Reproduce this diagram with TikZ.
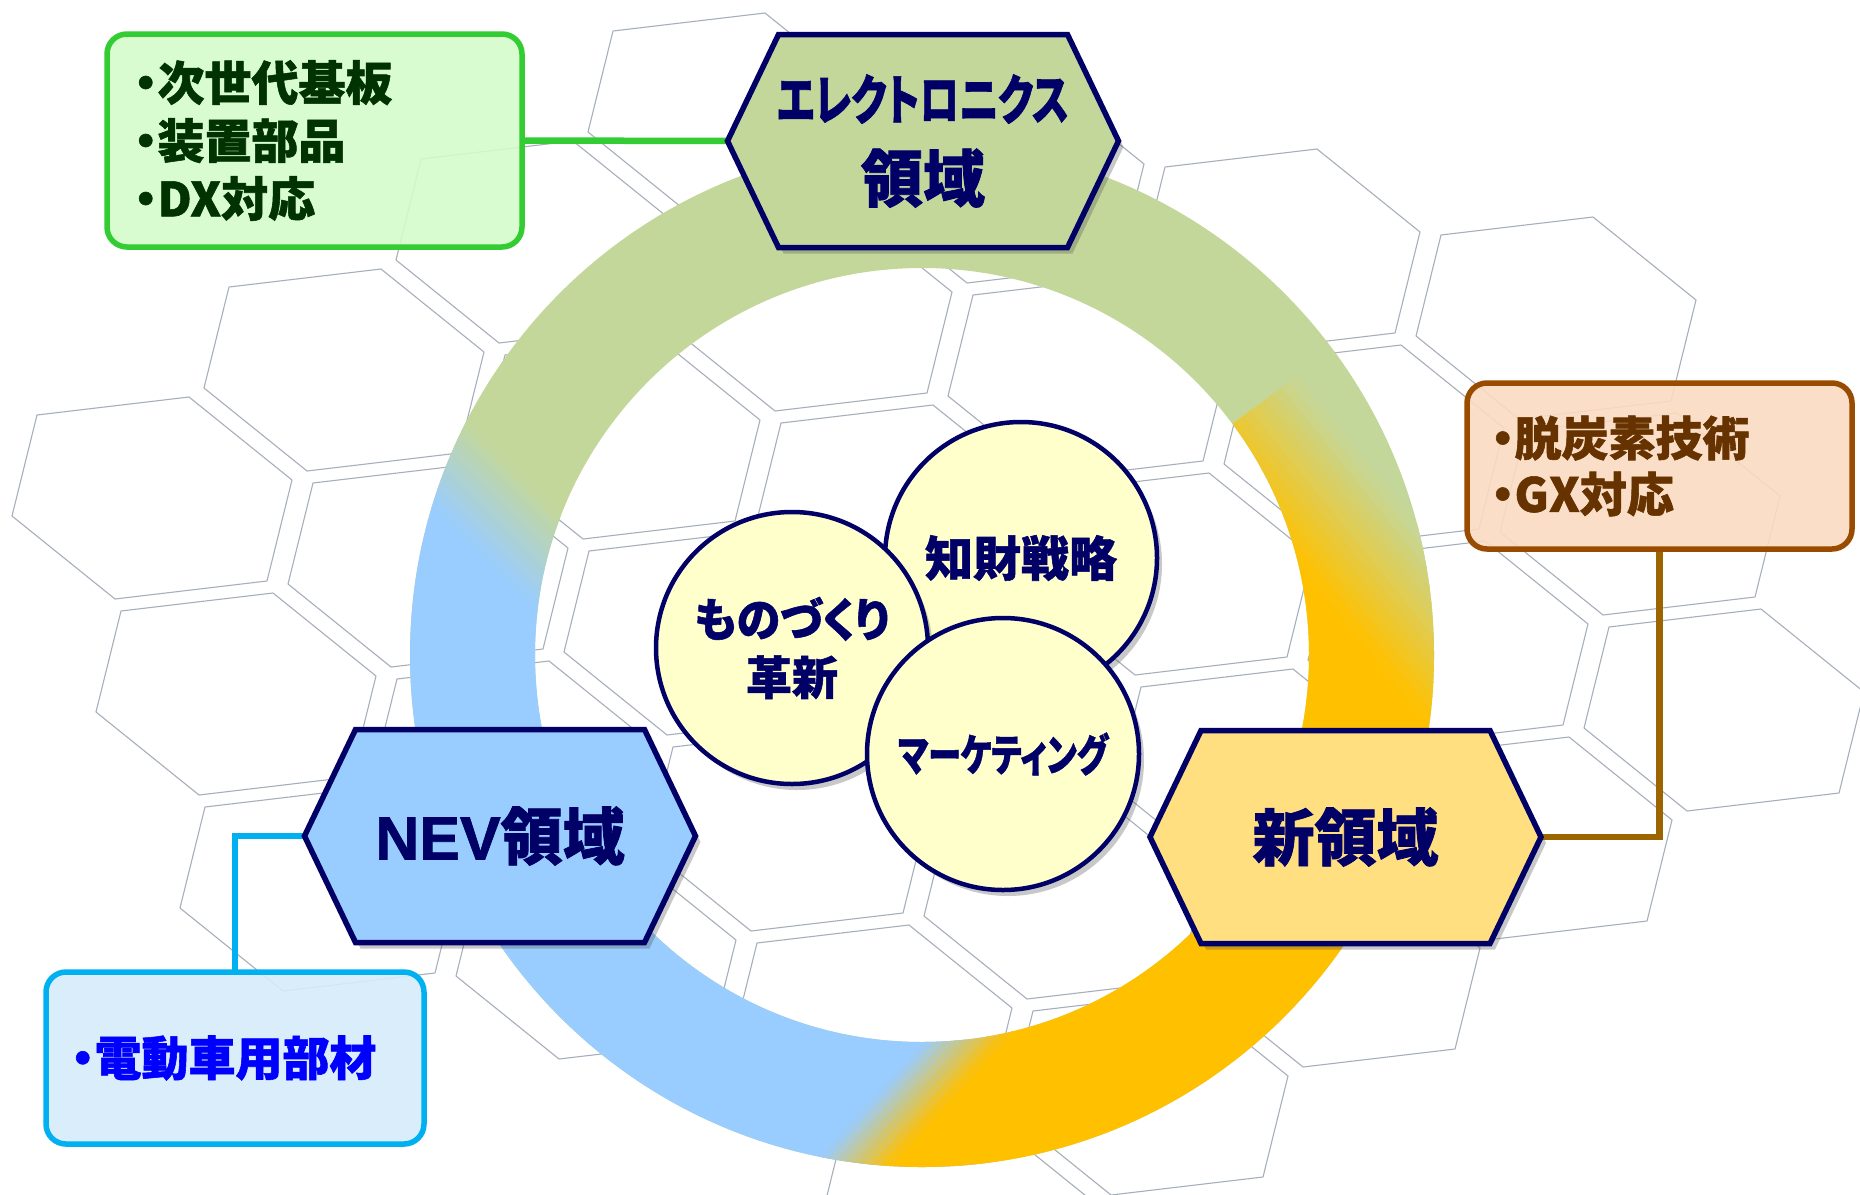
\documentclass[tikz,border=0pt]{standalone}
\usepackage{fontspec}
\usepackage{graphicx}
\usetikzlibrary{shadows}
\newfontfamily\jp{Noto Sans CJK JP}[RawFeature=+palt, BoldFeatures={FakeBold=1.2}]
\newfontfamily\lat{Liberation Sans}[BoldFeatures={FakeBold=1.2}]
\definecolor{cnavy}{HTML}{000066}
\definecolor{cringgreen}{HTML}{C4D79B}
\definecolor{cringblue}{HTML}{99CCFF}
\definecolor{cringorange}{HTML}{FFC000}
\definecolor{chexyellow}{HTML}{FFDF80}
\definecolor{ccirc}{HTML}{FFFFCC}
\definecolor{cgfill}{HTML}{D4FBCA}
\definecolor{cgline}{HTML}{33CC33}
\definecolor{cgtext}{HTML}{003300}
\definecolor{crfill}{HTML}{FADBC2}
\definecolor{crline}{HTML}{994C00}
\definecolor{crconn}{HTML}{9C6500}
\definecolor{crtext}{HTML}{663300}
\definecolor{cbfill}{HTML}{D6ECFB}
\definecolor{cbline}{HTML}{00B0F0}
\definecolor{cbtext}{HTML}{0000FF}
\definecolor{chexgray}{HTML}{A7AFBA}
\pgfdeclarelayer{back}
\pgfdeclarelayer{mid}
\pgfsetlayers{back,mid,main}
\tikzset{
  hexline/.style={draw=chexgray, line width=1.1pt, line join=round},
  hexshape/.style={draw=cnavy, line width=5.5pt, drop shadow={shadow xshift=5pt, shadow yshift=-6pt, opacity=0.3, fill=black!70}},
  hextext/.style={minimum width=391pt, minimum height=213pt, inner sep=0pt, outer sep=0pt, align=center, text=cnavy},
  circnode/.style={circle, draw=cnavy, line width=4.5pt, fill=ccirc, minimum size=272pt, inner sep=0pt, outer sep=0pt, align=center, text=cnavy, drop shadow={shadow xshift=5pt, shadow yshift=-6pt, opacity=0.3, fill=black!70}},
  infobox/.style={rectangle, rounded corners=20pt, line width=5.5pt, inner sep=0pt, outer sep=0pt, align=left, fill opacity=0.9, text opacity=1, font=\jp\bfseries\fontsize{47}{58}\selectfont},
  conn/.style={line width=6.5pt},
}
\begin{document}
\begin{tikzpicture}[x=1pt,y=-1pt]
\useasboundingbox (0,0) rectangle (1860,1194);
\begin{pgfonlayer}{back}
\fill[white] (0,0) rectangle (1860,1194);
% honeycomb background
\foreach \m/\n in {0/0,1/0,2/0,3/0,
                   -1/1,0/1,1/1,2/1,3/1,
                   -2/2,-1/2,0/2,1/2,2/2,3/2,
                   -2/3,-1/3,0/3,1/3,2/3,3/3,
                   -2/4,-1/4,0/4,1/4,2/4,
                   -3/5,-2/5,-1/5,0/5,1/5}{
  \pgfmathsetmacro\hx{152+192*\m+276*\n}
  \pgfmathsetmacro\hy{498-128*\m+68*\n}
  \draw[hexline] (\hx+140,\hy-18) -- (\hx+37,\hy-101) -- (\hx-115,\hy-83) -- (\hx-140,\hy+18) -- (\hx-37,\hy+101) -- (\hx+115,\hy+83) -- cycle;
}
% ring
\begin{scope}[even odd rule]
\clip (922,655) circle[radius=512] (922,655) circle[radius=387];
\fill[cringgreen] (300,0) rectangle (1600,1194);
\fill[cringblue] (-21,53) -- (1039,1113) -- (332,1820) -- (-728,760) -- cycle;
\foreach \i in {0,...,9}{
  \pgfmathsetmacro\a{8.5*\i}
  \pgfmathsetmacro\b{8.5*\i+9.5}
  \pgfmathtruncatemacro\p{(\i+0.5)*10}
  \fill[cringblue!\p!cringgreen] ({463-0.7071*\a-106},{417+0.7071*\a-106}) -- ({463-0.7071*\a+177},{417+0.7071*\a+177}) -- ({463-0.7071*\b+177},{417+0.7071*\b+177}) -- ({463-0.7071*\b-106},{417+0.7071*\b-106}) -- cycle;
}
\begin{scope}
\clip (922,655) -- (1564,177) -- (1900,177) -- (1900,1300) -- (700,1300) -- cycle;
\begin{scope}
\clip (793,-64) -- (1801,1184) -- (631,2129) -- (-377,881) -- cycle;
\fill[cringorange] (662,1418) -- (1030,1011) -- (1000,655) -- (1000,0) -- (2000,0) -- (2000,2000) -- (662,2000) -- cycle;
\foreach \i in {0,...,7}{
  \pgfmathsetmacro\a{7.25*\i}
  \pgfmathsetmacro\b{7.25*\i+8}
  \pgfmathtruncatemacro\p{(\i+0.5)*12.5}
  \fill[cringorange!\p!cringblue] ({820+0.74*\a-67},{1157+0.67*\a+74}) -- ({820+0.74*\a+167.5},{1157+0.67*\a-185}) -- ({820+0.74*\b+167.5},{1157+0.67*\b-185}) -- ({820+0.74*\b-67},{1157+0.67*\b+74}) -- cycle;
}
\end{scope}
\foreach \i in {0,...,11}{
  \pgfmathsetmacro\a{9.583*\i}
  \pgfmathsetmacro\b{9.583*\i+10.5}
  \pgfmathtruncatemacro\p{(\i+0.5)*100/12}
  \fill[cringgreen!\p!cringorange] ({1297+0.78*\a-189},{560-0.63*\a-234}) -- ({1297+0.78*\a+189},{560-0.63*\a+234}) -- ({1297+0.78*\b+189},{560-0.63*\b+234}) -- ({1297+0.78*\b-189},{560-0.63*\b-234}) -- cycle;
}
\end{scope}
\end{scope}
\end{pgfonlayer}

% hexagon nodes
\filldraw[hexshape, fill=cringgreen] (727.5,141) -- (778.5,34.5) -- (1067.5,34.5) -- (1118.5,141) -- (1067.5,247.5) -- (778.5,247.5) -- cycle;
\node[hextext, font=\jp\bfseries\fontsize{62}{82}\selectfont] (elec) at (923,141)
  {{\fontsize{54}{82}\selectfont\resizebox{292pt}{\height}{エレクトロニクス}}\\領域};

\filldraw[hexshape, fill=cringblue] (304.5,836) -- (355.5,729.5) -- (644.5,729.5) -- (695.5,836) -- (644.5,942.5) -- (355.5,942.5) -- cycle;
\node[hextext, font=\jp\bfseries\fontsize{62}{82}\selectfont] (nev) at (500,836)
  {{\lat\bfseries\fontsize{61}{82}\selectfont NEV}領域};

\filldraw[hexshape, fill=chexyellow] (1150,837) -- (1201,730.5) -- (1490,730.5) -- (1541,837) -- (1490,943.5) -- (1201,943.5) -- cycle;
\node[hextext, font=\jp\bfseries\fontsize{62}{82}\selectfont] (newa) at (1345.5,837) {新領域};

% circles
\node[circnode, font=\jp\bfseries\fontsize{48}{58}\selectfont] (chizai) at (1021,558) {知財戦略};
\node[circnode, font=\jp\bfseries\fontsize{46}{58}\selectfont] (mono) at (792,648)
  {\resizebox{195pt}{\height}{ものづくり}\\革新};
\node[circnode, font=\jp\bfseries\fontsize{44}{58}\selectfont] (mkt) at (1003,754)
  {\resizebox{210pt}{\height}{マーケティング}};

% info boxes
\node[infobox, draw=cgline, fill=cgfill, text=cgtext, minimum width=415pt, minimum height=213pt, text width=361pt] (gbox) at (314.5,140.5)
  {・次世代基板\\・装置部品\\・DX対応};
\node[infobox, draw=crline, fill=crfill, text=crtext, minimum width=385pt, minimum height=166pt, text width=337pt, font=\jp\bfseries\fontsize{47}{56}\selectfont] (rbox) at (1659.5,466)
  {・脱炭素技術\\・GX対応};
\node[infobox, draw=cbline, fill=cbfill, text=cbtext, minimum width=378pt, minimum height=172pt, text width=328pt] (bbox) at (235,1058)
  {・電動車用部材};

% connectors
\begin{pgfonlayer}{mid}
\draw[conn, cgline] (gbox.east) -- (elec.west);
\draw[conn, cbline] (nev.west) -| (bbox.north);
\draw[conn, crconn] (newa.east) -| (rbox.south);
\end{pgfonlayer}
\end{tikzpicture}
\end{document}
